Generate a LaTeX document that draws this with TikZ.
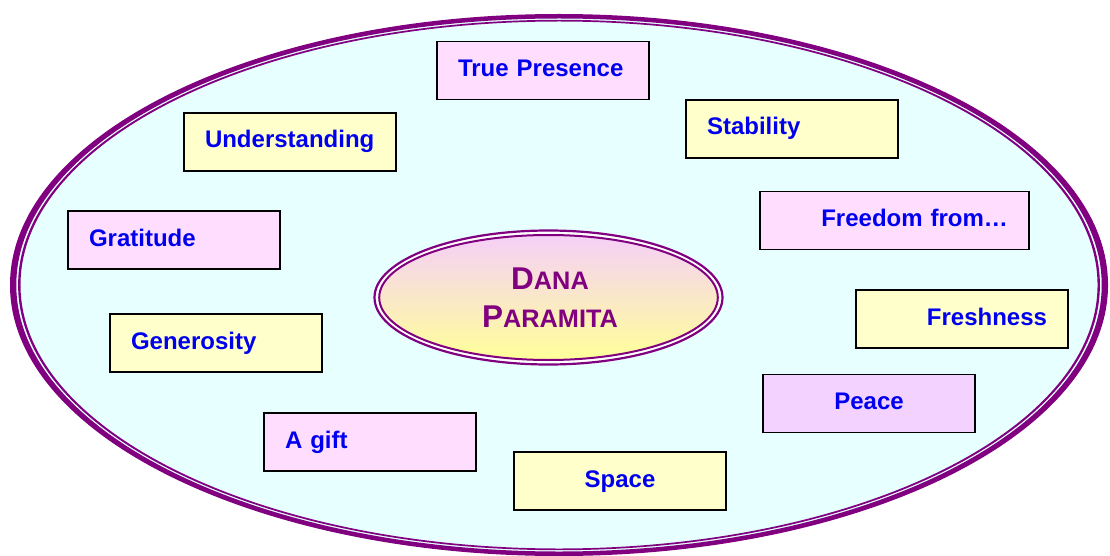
\documentclass[tikz,border=0pt]{standalone}
\usepackage{fontspec}
\setmainfont{Liberation Sans}
\definecolor{ringpurple}{HTML}{800080}
\definecolor{bgcyan}{HTML}{E8FFFF}
\definecolor{boxpink}{HTML}{FFDDFF}
\definecolor{boxyellow}{HTML}{FFFFCC}
\definecolor{boxlav}{HTML}{F3D2FF}
\definecolor{txtblue}{HTML}{0000EE}
\definecolor{gradtop}{HTML}{F5D0F8}
\definecolor{gradbot}{HTML}{FFFF99}
\tikzset{
  card/.style={draw=black, line width=1.6pt, minimum height=58, inner xsep=21,
    text width=170, text height=17, text depth=5, text=txtblue,
    font=\fontsize{24}{28}\selectfont\bfseries},
  leftcard/.style={card, align=left},
  rightcard/.style={card, align=right},
  midcard/.style={card, align=center},
}
\begin{document}
\begin{tikzpicture}[x=1pt,y=-1pt]
\useasboundingbox (0,0) rectangle (1110,556);
% outer ellipse (stretched horizontally, so side strokes are thicker)
\begin{scope}[transform canvas={xscale=1.4}]
\fill[bgcyan] (399.29,285) ellipse [x radius=390, y radius=269];
\draw[ringpurple, line width=4.5pt] (399.29,285) ellipse [x radius=389.9, y radius=268.75];
\draw[ringpurple, line width=1.7pt] (399.29,285) ellipse [x radius=385.5, y radius=264.35];
\end{scope}
% central ellipse
\fill[white] (548.5,297.5) ellipse [x radius=175, y radius=68];
\shade[top color=gradtop, bottom color=gradbot] (548.5,297.5) ellipse [x radius=169, y radius=62];
\draw[ringpurple, line width=2.2pt] (548.5,297.5) ellipse [x radius=174, y radius=67];
\draw[ringpurple, line width=2pt] (548.5,297.5) ellipse [x radius=169.3, y radius=62.5];
\node[text=ringpurple, font=\fontsize{31.5}{38}\selectfont\bfseries, align=center] (dana) at (550,298)
  {D{\fontsize{25.3}{38}\selectfont ANA}\\P{\fontsize{25.3}{38}\selectfont ARAMITA}};
% cards
\node[leftcard, fill=boxpink] (presence) at (543,70.5) {True Presence};
\node[leftcard, fill=boxyellow] (understanding) at (290,142) {Understanding};
\node[leftcard, fill=boxyellow] (stability) at (792,129) {Stability};
\node[leftcard, fill=boxpink] (gratitude) at (174,240) {Gratitude};
\node[rightcard, fill=boxpink, text width=227] (freedom) at (894.5,220.5) {Freedom from\ldots};
\node[rightcard, fill=boxyellow] (freshness) at (962,319) {Freshness};
\node[leftcard, fill=boxyellow] (generosity) at (216,343) {Generosity};
\node[midcard, fill=boxlav] (peace) at (869,403.5) {Peace};
\node[leftcard, fill=boxpink] (gift) at (370,442) {A gift};
\node[midcard, fill=boxyellow] (space) at (620,481) {Space};
\end{tikzpicture}
\end{document}
